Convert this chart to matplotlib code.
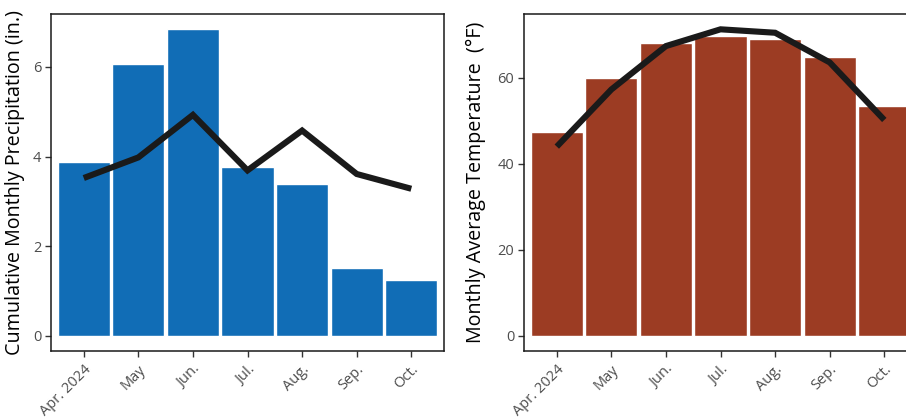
import matplotlib
matplotlib.use("Agg")
from matplotlib import pyplot as plt
import numpy as np

plt.rcParams['font.family'] = ['Open Sans', 'DejaVu Sans']

months = ["Apr. 2024", "May", "Jun.", "Jul.", "Aug.", "Sep.", "Oct."]

# precipitation (in.)
precip_bars = [3.87, 6.07, 6.84, 3.76, 3.38, 1.52, 1.24]
precip_line = [3.52, 3.98, 4.93, 3.69, 4.58, 3.61, 3.28]

# temperature (F)
temp_bars = [47.3, 59.9, 68.2, 69.8, 69.1, 64.8, 53.4]
temp_line = [44.0, 57.3, 67.4, 71.3, 70.5, 63.6, 50.2]

blue = "#116db6"
red = "#9c3c23"
ink = "#1a1a1a"

fig = plt.figure(figsize=(9.06, 4.19), dpi=100)
ax1 = fig.add_axes([0.0563, 0.1623, 0.4338, 0.8043])
ax2 = fig.add_axes([0.5784, 0.1623, 0.4338, 0.8043])

x = np.arange(len(months))

def panel(ax, bars, line, color, ylabel, yticks, lab_x, lab_size):
    ax.bar(x, bars, width=0.955, color=color, edgecolor="white", linewidth=1.0)
    ax.plot(x, line, color=ink, linewidth=4.4, solid_capstyle="butt", solid_joinstyle="miter")
    top = max(max(bars), max(line))
    pad = top * 0.05
    ax.set_ylim(-pad, top + pad)
    ax.set_xlim(-0.6, 6.6)
    ax.set_xticks(x)
    ax.set_xticklabels(months, rotation=45, ha="right", rotation_mode="anchor")
    ax.set_yticks(yticks)
    ax.tick_params(axis="both", colors="#333333", labelcolor="#4d4d4d",
                   labelsize=10.5, length=4, width=1, direction="out")
    ax.tick_params(axis="x", pad=4)
    ax.tick_params(axis="y", pad=3)
    for s in ax.spines.values():
        s.set_color("#1a1a1a")
        s.set_linewidth(1.1)
    ax.set_ylabel(ylabel, fontsize=lab_size, color="black")
    ax.yaxis.set_label_coords(lab_x, 0.5)

panel(ax1, precip_bars, precip_line, blue,
      "Cumulative Monthly Precipitation (in.)", [0, 2, 4, 6], -0.066, 14.2)
panel(ax2, temp_bars, temp_line, red,
      "Monthly Average Temperature  (\u00b0F)", [0, 20, 40, 60], -0.097, 14.2)

fig.savefig("out.png", dpi=100)
